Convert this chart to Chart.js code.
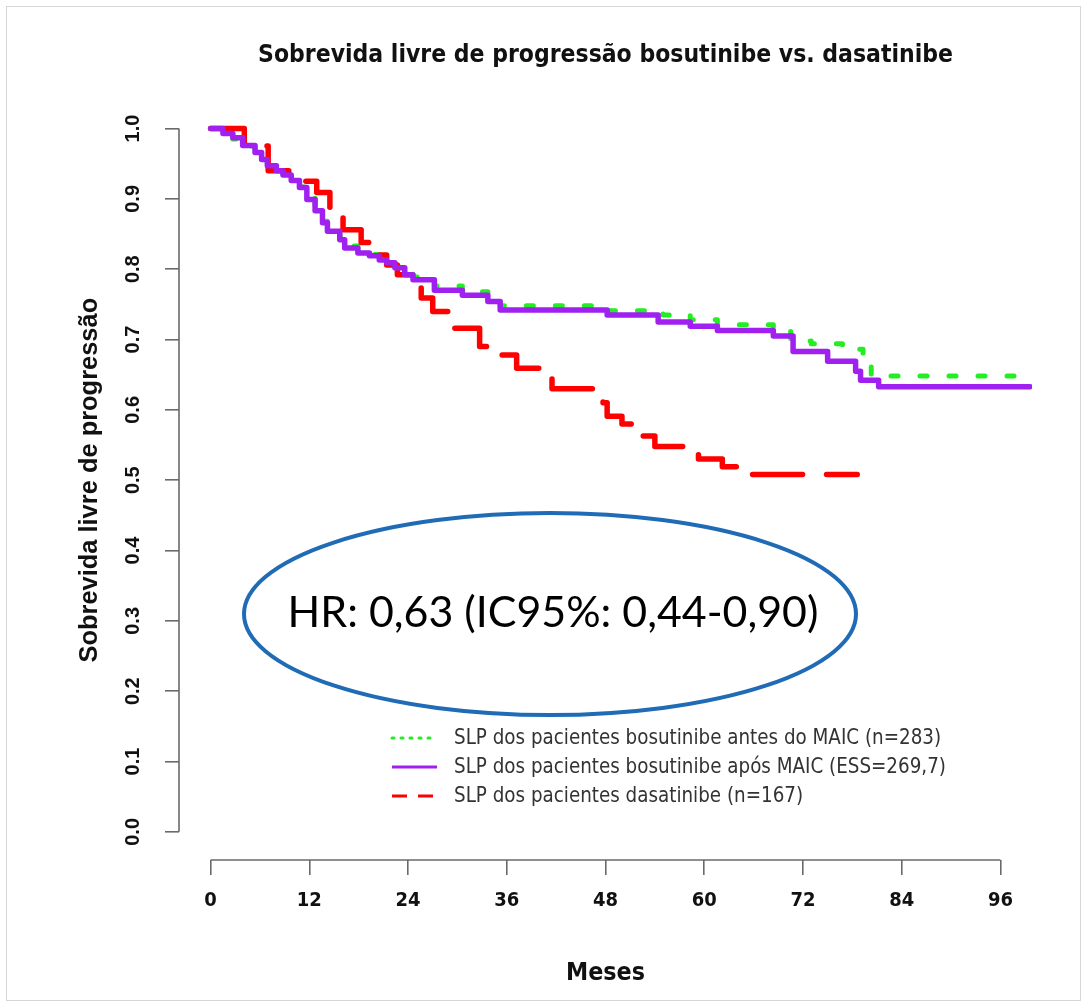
<!DOCTYPE html>
<html><head><meta charset="utf-8">
<script src="https://cdn.jsdelivr.net/npm/chart.js@4.4.0/dist/chart.umd.min.js"></script>
<style>
html,body{margin:0;padding:0;background:#fff;}
#wrap{position:relative;width:1086px;height:1004px;overflow:hidden;}
#frame{position:absolute;left:6px;top:6px;width:1075px;height:995px;border:1px solid #d6d6d6;box-sizing:border-box;pointer-events:none;}
canvas{position:absolute;left:0;top:0;}
</style></head><body>
<div id="wrap"><canvas id="c" width="1086" height="1004"></canvas><div id="frame"></div></div>
<script>
// ---------- texts ----------
const chartTitle = 'Sobrevida livre de progressão bosutinibe vs. dasatinibe';
const xAxisTitle = 'Meses';
const yAxisTitle = 'Sobrevida livre de progressão';
const hrText = 'HR: 0,63 (IC95%: 0,44-0,90)';
const seriesLabels = [
  'SLP dos pacientes bosutinibe antes do MAIC (n=283)',
  'SLP dos pacientes bosutinibe após MAIC (ESS=269,7)',
  'SLP dos pacientes dasatinibe (n=167)'
];

// ---------- ticks ----------
const xTickValues = [0, 12, 24, 36, 48, 60, 72, 84, 96];
const xTickLabels = ['0', '12', '24', '36', '48', '60', '72', '84', '96'];
const yTickValues = [0, 0.1, 0.2, 0.3, 0.4, 0.5, 0.6, 0.7, 0.8, 0.9, 1.0];
const yTickLabels = ['0.0', '0.1', '0.2', '0.3', '0.4', '0.5', '0.6', '0.7', '0.8', '0.9', '1.0'];

// ---------- series (months, survival after step) ----------
const bosuBeforeMonths = [0, 1.5, 2.7, 3.9, 5.4, 6.2, 6.9, 8.0, 8.8, 9.8, 10.8, 11.7, 12.7, 13.6, 14.2, 15.7, 16.3, 17.9, 19.3, 20.5, 21.4, 22.4, 23.6, 24.6, 27.2, 30.6, 33.7, 35.2, 48.2, 55.0, 58.3, 61.6, 68.4, 70.5, 73.0, 76.8, 79.3, 80.3, 99.6];
const bosuBeforeSurv   = [1.0, 0.992, 0.985, 0.975, 0.965, 0.956, 0.948, 0.941, 0.935, 0.927, 0.917, 0.901, 0.885, 0.868, 0.857, 0.845, 0.833, 0.826, 0.821, 0.815, 0.811, 0.804, 0.795, 0.789, 0.776, 0.768, 0.758, 0.748, 0.741, 0.735, 0.728, 0.721, 0.713, 0.698, 0.694, 0.686, 0.668, 0.648, 0.648];

const bosuAfterMonths = [0, 1.5, 2.7, 3.9, 5.4, 6.2, 6.9, 8.0, 8.8, 9.8, 10.8, 11.7, 12.7, 13.6, 14.2, 15.7, 16.3, 17.9, 19.3, 20.5, 21.4, 22.4, 23.6, 24.6, 27.2, 30.6, 33.7, 35.2, 48.2, 54.4, 58.3, 61.6, 68.4, 70.8, 75.0, 78.4, 79.0, 81.2, 99.6];
const bosuAfterSurv   = [1.0, 0.993, 0.987, 0.976, 0.966, 0.956, 0.947, 0.940, 0.934, 0.926, 0.916, 0.899, 0.883, 0.866, 0.854, 0.842, 0.830, 0.823, 0.819, 0.813, 0.809, 0.802, 0.792, 0.785, 0.770, 0.763, 0.754, 0.742, 0.735, 0.725, 0.719, 0.713, 0.705, 0.683, 0.669, 0.655, 0.642, 0.633, 0.633];

const dasaMonths = [0, 4.1, 7.0, 9.5, 12.9, 14.5, 16.1, 18.3, 20.0, 21.4, 22.7, 24.3, 25.6, 27.0, 29.5, 32.7, 34.8, 37.2, 40.5, 41.5, 47.7, 48.2, 50.0, 52.2, 54.0, 59.3, 62.2, 64.8, 78.6];
const dasaSurv   = [1.0, 0.975, 0.940, 0.925, 0.909, 0.885, 0.856, 0.838, 0.820, 0.806, 0.792, 0.775, 0.759, 0.740, 0.716, 0.690, 0.678, 0.659, 0.645, 0.630, 0.610, 0.591, 0.580, 0.563, 0.548, 0.530, 0.519, 0.508, 0.508];

// ---------- helpers ----------
const mctx = document.createElement('canvas').getContext('2d');
function fitSize(text, weight, family, target) {
  mctx.font = weight + ' 100px ' + family;
  return 100 * target / mctx.measureText(text).width;
}
const NARROW = "'Liberation Sans Narrow', 'DejaVu Sans Condensed', sans-serif";
const SANS = "'Liberation Sans', Arial, sans-serif";
const HRFONT = "Lato, 'Open Sans', sans-serif";

const titleSize = fitSize(chartTitle, 'bold', NARROW, 695);
const xTitleSize = fitSize(xAxisTitle, 'bold', NARROW, 79);
const yTitleSize = fitSize(yAxisTitle, 'bold', SANS, 365);
const legendSize = fitSize(seriesLabels[1], 'normal', NARROW, 492);
const hrSize = fitSize(hrText, 'normal', HRFONT, 531);

function toPoints(xs, ys) { return xs.map((x, i) => ({ x: x, y: ys[i] })); }

const datasets = [
  { label: seriesLabels[0], data: toPoints(bosuBeforeMonths, bosuBeforeSurv),
    borderColor: '#22ee22', borderWidth: 5, borderDash: [7, 22], borderCapStyle: 'round',
    legendDash: [2, 7], legendCap: 'round', order: 2 },
  { label: seriesLabels[1], data: toPoints(bosuAfterMonths, bosuAfterSurv),
    borderColor: '#a020f0', borderWidth: 5.5, borderDash: [], borderCapStyle: 'round',
    legendDash: [], legendCap: 'butt', order: 0 },
  { label: seriesLabels[2], data: toPoints(dasaMonths, dasaSurv),
    borderColor: '#ff0000', borderWidth: 5.5, borderDash: [50, 24], borderCapStyle: 'round',
    legendDash: [15, 11], legendCap: 'butt', order: 1 }
];
datasets.forEach(d => { d.stepped = true; d.pointRadius = 0; d.fill = false; d.borderJoinStyle = 'round'; });

const axisLines = {
  id: 'axisLines',
  afterDraw(chart) {
    const { ctx, scales: { x, y }, chartArea } = chart;
    ctx.save();
    ctx.strokeStyle = '#6a6a6a';
    ctx.lineWidth = 1.6;
    ctx.beginPath();
    ctx.moveTo(x.getPixelForValue(xTickValues[0]), chartArea.bottom);
    ctx.lineTo(x.getPixelForValue(xTickValues[xTickValues.length - 1]), chartArea.bottom);
    ctx.moveTo(chartArea.left, y.getPixelForValue(yTickValues[0]));
    ctx.lineTo(chartArea.left, y.getPixelForValue(yTickValues[yTickValues.length - 1]));
    ctx.stroke();
    ctx.restore();
  }
};

const legendAndNote = {
  id: 'legendAndNote',
  afterDraw(chart) {
    const ctx = chart.ctx;
    ctx.save();
    // legend
    chart.data.datasets.forEach((d, i) => {
      const yy = 738 + i * 29;
      ctx.beginPath();
      ctx.strokeStyle = d.borderColor;
      ctx.lineWidth = 3;
      ctx.lineCap = d.legendCap;
      ctx.setLineDash(d.legendDash);
      ctx.moveTo(392, yy);
      ctx.lineTo(437, yy);
      ctx.stroke();
      ctx.setLineDash([]);
      ctx.fillStyle = '#333';
      ctx.font = 'normal ' + legendSize.toFixed(2) + 'px ' + NARROW;
      ctx.textAlign = 'left';
      ctx.textBaseline = 'middle';
      ctx.fillText(d.label, 454, yy + 1);
    });
    // HR ellipse
    ctx.beginPath();
    ctx.strokeStyle = '#1f6bb5';
    ctx.lineWidth = 4;
    ctx.ellipse(550, 614, 306, 101, 0, 0, Math.PI * 2);
    ctx.stroke();
    ctx.fillStyle = '#000';
    ctx.font = 'normal ' + hrSize.toFixed(2) + 'px ' + HRFONT;
    ctx.textAlign = 'center';
    ctx.textBaseline = 'middle';
    ctx.fillText(hrText, 553, 613);
    ctx.restore();
  }
};

new Chart(document.getElementById('c'), {
  type: 'line',
  data: { datasets: datasets },
  options: {
    responsive: false,
    animation: false,
    devicePixelRatio: 1,
    layout: { padding: { left: 0, right: 54, top: 0, bottom: 0 } },
    plugins: {
      legend: { display: false },
      tooltip: { enabled: false },
      title: {
        display: true, text: chartTitle, fullSize: false, color: '#111',
        font: { family: NARROW, size: titleSize, weight: 'bold', lineHeight: 1.2 },
        padding: { top: 41, bottom: 30 }
      }
    },
    scales: {
      x: {
        type: 'linear', min: -3.84, max: 99.84,
        afterBuildTicks(s) { s.ticks = xTickValues.map(v => ({ value: v })); },
        afterFit(s) { s.height = 144; },
        border: { display: false },
        grid: { drawOnChartArea: false, drawTicks: true, tickLength: 15, color: '#6a6a6a', lineWidth: 1.6 },
        ticks: {
          autoSkip: false, maxRotation: 0, padding: 14, color: '#111',
          font: { family: NARROW, size: 20, weight: 'bold' },
          callback(v) { const i = xTickValues.indexOf(v); return i >= 0 ? xTickLabels[i] : ''; }
        },
        title: {
          display: true, text: xAxisTitle, color: '#111',
          font: { family: NARROW, size: xTitleSize, weight: 'bold', lineHeight: 1.2 },
          padding: { top: 0, bottom: 16 }
        }
      },
      y: {
        type: 'linear', min: -0.04, max: 1.04,
        afterBuildTicks(s) { s.ticks = yTickValues.map(v => ({ value: v })); },
        afterFit(s) { s.width = 179; },
        border: { display: false },
        grid: { drawOnChartArea: false, drawTicks: true, tickLength: 14, color: '#6a6a6a', lineWidth: 1.6 },
        ticks: {
          autoSkip: false, minRotation: 90, maxRotation: 90, crossAlign: 'center', padding: 18, color: '#111',
          font: { family: SANS, size: 20, weight: 'bold' },
          callback(v) { const i = yTickValues.findIndex(t => Math.abs(t - v) < 1e-9); return i >= 0 ? yTickLabels[i] : ''; }
        },
        title: {
          display: true, text: yAxisTitle, color: '#111',
          font: { family: SANS, size: yTitleSize, weight: 'bold', lineHeight: 1.2 },
          padding: { top: 75, bottom: 0 }
        }
      }
    }
  },
  plugins: [axisLines, legendAndNote]
});
</script>
</body></html>
